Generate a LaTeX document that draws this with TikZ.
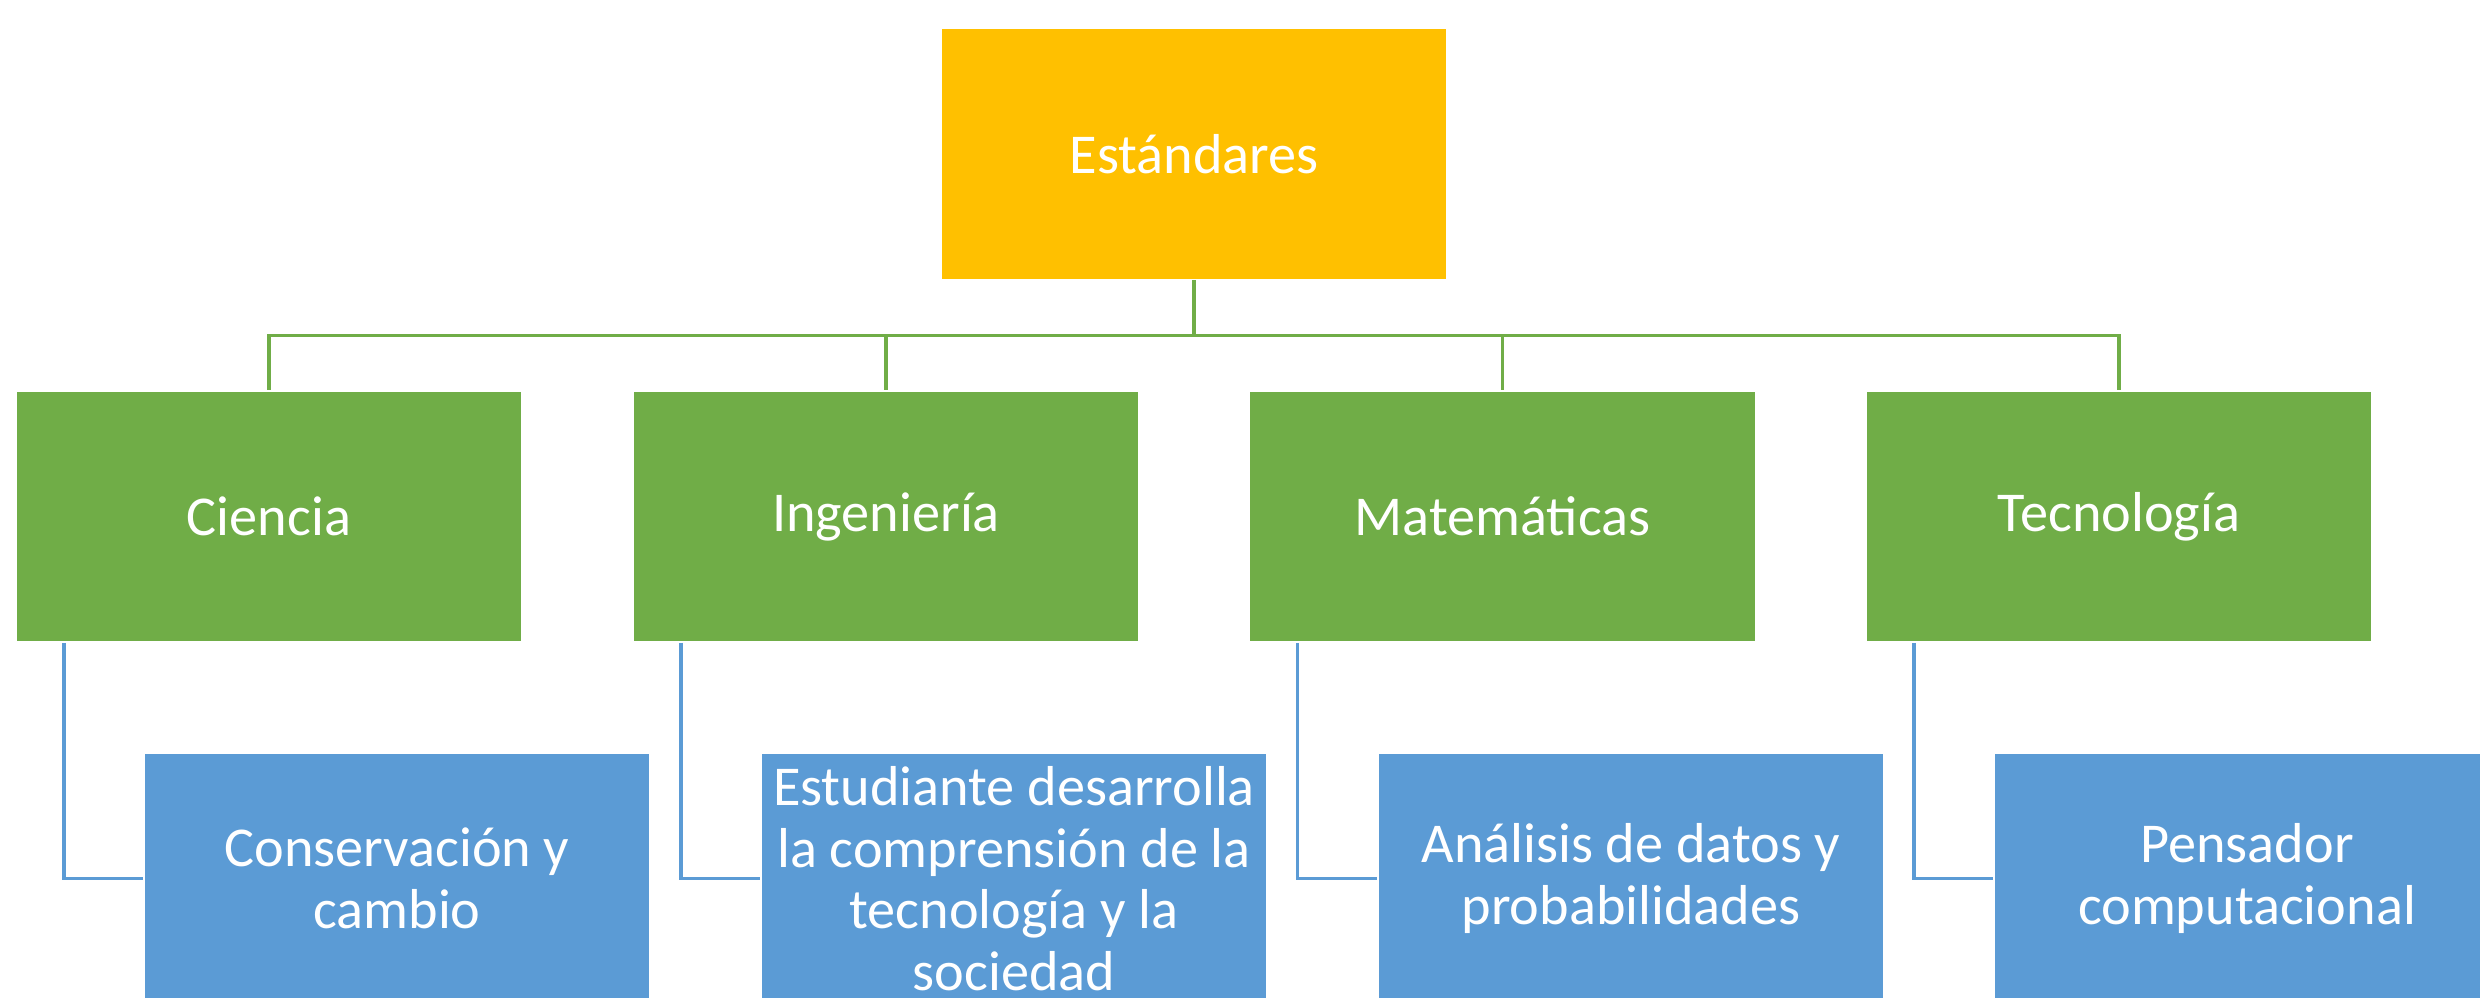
\documentclass[tikz,border=0pt]{standalone}
\usepackage{fontspec}
\setmainfont{Carlito}
\definecolor{oro}{HTML}{FFC000}
\definecolor{verde}{HTML}{70AD47}
\definecolor{azul}{HTML}{5B9BD5}

\begin{document}
\begin{tikzpicture}[x=0.01cm,y=-0.01cm,
		caja/.style={draw=white,line width=0.5pt,minimum width=5.06cm,minimum height=2.51cm,
			inner sep=0pt,text=white,align=center,font=\fontsize{16}{17.5}\selectfont},
		lineaverde/.style={draw=verde,line width=0.9pt},
		lineaazul/.style={draw=azul,line width=0.9pt}]
			%Marco
			\useasboundingbox (0,0) rectangle (2480,998);
			\clip (0,0) rectangle (2480,998);
			
			%Raiz
			\node[caja,fill=oro] (est) at (1194,154) {Estándares};
			
			%Areas
			\node[caja,fill=verde] (cien) at (269,516.5) {Ciencia};
			\node[caja,fill=verde] (inge) at (886,516.5) {Ingeniería};
			\node[caja,fill=verde] (mate) at (1502.5,516.5) {Matemáticas};
			\node[caja,fill=verde] (tecn) at (2119,516.5) {Tecnología};
			
			%Estandares de cada area
			\node[caja,fill=azul] (cons) at (397,878.5) {Conservación y\\cambio};
			\node[caja,fill=azul] (estu) at (1014,878.5) {Estudiante desarrolla\\la comprensión de la\\tecnología y la\\sociedad};
			\node[caja,fill=azul] (anal) at (1631,878.5) {Análisis de datos y\\probabilidades};
			\node[caja,fill=azul] (pens) at (2247,878.5) {Pensador\\computacional};
			
			%Conectores
			\draw[lineaverde] (est.south) -- ++(0,55) -| (cien.north);
			\draw[lineaverde] (est.south) -- ++(0,55) -| (inge.north);
			\draw[lineaverde] (est.south) -- ++(0,55) -| (mate.north);
			\draw[lineaverde] (est.south) -- ++(0,55) -| (tecn.north);
			
			\draw[lineaazul] (cien.south west) ++(49,0) |- (cons.west);
			\draw[lineaazul] (inge.south west) ++(49,0) |- (estu.west);
			\draw[lineaazul] (mate.south west) ++(49,0) |- (anal.west);
			\draw[lineaazul] (tecn.south west) ++(49,0) |- (pens.west);
		\end{tikzpicture}
\end{document}
